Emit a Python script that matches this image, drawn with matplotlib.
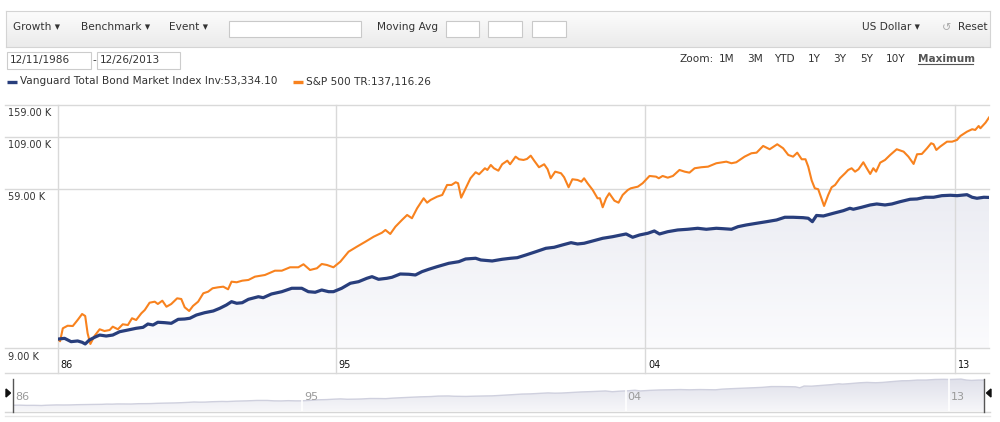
import numpy as np
import matplotlib
matplotlib.use("Agg")
import matplotlib.pyplot as plt
from matplotlib.patches import Rectangle, Polygon
from matplotlib.lines import Line2D
from matplotlib.colors import LinearSegmentedColormap
from matplotlib.transforms import offset_copy

# ---------------- data ----------------
sp_years = [1986.94, 1987.00, 1987.08, 1987.22, 1987.37, 1987.51, 1987.64, 1987.73, 1987.80, 1987.88,
            1988.00, 1988.15, 1988.29, 1988.44, 1988.53, 1988.68, 1988.82, 1988.97, 1989.09, 1989.21,
            1989.36, 1989.46, 1989.60, 1989.75, 1989.84, 1989.97, 1990.09, 1990.23, 1990.40, 1990.52,
            1990.62, 1990.75, 1990.86, 1991.01, 1991.16, 1991.30, 1991.43, 1991.59, 1991.74, 1991.88,
            1991.98, 1992.13, 1992.29, 1992.47, 1992.66, 1992.95, 1993.24, 1993.44, 1993.68, 1993.92,
            1994.07, 1994.26, 1994.46, 1994.60, 1994.75, 1994.94, 1995.14, 1995.38, 1995.62, 1995.87,
            1996.11, 1996.35, 1996.45, 1996.59, 1996.74, 1996.93, 1997.08, 1997.22, 1997.37, 1997.56,
            1997.66, 1997.76, 1997.95, 1998.10, 1998.24, 1998.37, 1998.49, 1998.56, 1998.65, 1998.78,
            1998.92, 1999.07, 1999.17, 1999.34, 1999.41, 1999.51, 1999.60, 1999.73, 1999.84, 1999.99,
            2000.07, 2000.23, 2000.33, 2000.46, 2000.56, 2000.67, 2000.77, 2000.91, 2001.06, 2001.16,
            2001.25, 2001.38, 2001.55, 2001.64, 2001.77, 2001.88, 2002.03, 2002.14, 2002.22, 2002.32,
            2002.47, 2002.61, 2002.68, 2002.76, 2002.86, 2002.95, 2003.10, 2003.22, 2003.34, 2003.49,
            2003.58, 2003.78, 2003.92, 2004.12, 2004.31, 2004.39, 2004.50, 2004.65, 2004.80, 2004.99,
            2005.14, 2005.28, 2005.43, 2005.62, 2005.82, 2006.06, 2006.35, 2006.50, 2006.64, 2006.88,
            2007.08, 2007.23, 2007.42, 2007.61, 2007.83, 2008.00, 2008.15, 2008.29, 2008.41, 2008.54,
            2008.65, 2008.73, 2008.83, 2008.92, 2009.02, 2009.19, 2009.31, 2009.41, 2009.51, 2009.65,
            2009.80, 2009.89, 2009.99, 2010.09, 2010.19, 2010.33, 2010.43, 2010.53, 2010.62, 2010.70,
            2010.82, 2010.96, 2011.11, 2011.30, 2011.50, 2011.64, 2011.79, 2011.89, 2012.03, 2012.18,
            2012.30, 2012.37, 2012.45, 2012.56, 2012.76, 2012.91, 2013.05, 2013.15, 2013.34, 2013.49,
            2013.58, 2013.68, 2013.73, 2013.88, 2013.98]
sp_values = [10000, 9750, 11360, 11710, 11670, 12530, 13450, 13140, 10710, 9440,
             10370, 11230, 11000, 11130, 11580, 11230, 11910, 11810, 12790, 12530,
             13560, 14100, 15370, 15560, 15140, 15740, 14660, 15140, 16190, 16060,
             14560, 13940, 14790, 15560, 17180, 17510, 18230, 18440, 18580, 18010,
             19710, 19570, 19940, 20110, 20910, 21330, 22440, 22440, 23360, 23360,
             24210, 22630, 23090, 24290, 24010, 23360, 24960, 28090, 29800, 31620,
             33540, 35160, 36310, 34630, 37750, 40860, 43350, 41700, 46920, 52810,
             50130, 51760, 53820, 54910, 61800, 61800, 63810, 63060, 53190, 59440,
             66890, 71820, 70140, 75290, 73790, 78280, 75290, 73180, 78940, 82360,
             78940, 86350, 83740, 83050, 84030, 87370, 82360, 76190, 78940, 74410,
             66890, 72330, 70970, 67690, 60140, 66110, 65560, 64260, 66890, 63060,
             58250, 52810, 52810, 47480, 52810, 56020, 51330, 50130, 54910, 58250,
             59440, 60570, 63060, 68740, 68170, 66890, 68740, 67370, 68740, 73790,
             72330, 71480, 75290, 76190, 76730, 79880, 81400, 79880, 80820, 86350,
             89900, 90540, 97990, 94250, 99980, 95370, 88110, 86350, 90540, 83740,
             83740, 76730, 65170, 59440, 58740, 48220, 54910, 60140, 61800, 66890,
             70970, 73790, 75290, 72330, 74410, 80820, 75290, 70390, 75290, 72330,
             80450, 83050, 88110, 94250, 91610, 86350, 79220, 88840, 89160, 95370,
             101200, 99980, 93470, 97190, 103100, 103100, 105200, 110300, 116000, 119400,
             118400, 124100, 120800, 129100, 137116.26]

bond_years = [1986.94, 1987.13, 1987.32, 1987.51, 1987.64, 1987.73, 1987.85, 1988.00, 1988.15, 1988.34,
              1988.53, 1988.73, 1988.97, 1989.21, 1989.41, 1989.55, 1989.70, 1989.84, 1990.04, 1990.23,
              1990.43, 1990.62, 1990.77, 1990.96, 1991.20, 1991.45, 1991.64, 1991.83, 1991.98, 1992.13,
              1992.29, 1992.47, 1992.76, 1992.90, 1993.14, 1993.44, 1993.73, 1994.02, 1994.21, 1994.41,
              1994.60, 1994.80, 1994.94, 1995.18, 1995.43, 1995.67, 1995.91, 1996.06, 1996.25, 1996.49,
              1996.64, 1996.88, 1997.13, 1997.32, 1997.51, 1997.71, 1997.95, 1998.29, 1998.58, 1998.78,
              1999.07, 1999.22, 1999.55, 1999.84, 2000.09, 2000.28, 2000.53, 2000.82, 2001.11, 2001.35,
              2001.59, 2001.84, 2002.03, 2002.22, 2002.47, 2002.76, 2003.05, 2003.29, 2003.44, 2003.63,
              2003.83, 2004.07, 2004.26, 2004.41, 2004.65, 2004.94, 2005.23, 2005.52, 2005.77, 2006.06,
              2006.25, 2006.50, 2006.69, 2006.93, 2007.23, 2007.52, 2007.81, 2008.05, 2008.29, 2008.58,
              2008.73, 2008.85, 2008.97, 2009.17, 2009.46, 2009.75, 2009.94, 2010.04, 2010.28, 2010.53,
              2010.72, 2010.96, 2011.16, 2011.40, 2011.69, 2011.89, 2012.13, 2012.37, 2012.61, 2012.86,
              2013.05, 2013.34, 2013.49, 2013.63, 2013.83, 2013.98]
bond_values = [10000, 10090, 9700, 9780, 9630, 9440, 9890, 10210, 10490, 10370,
               10490, 10910, 11130, 11360, 11490, 11950, 11810, 12200, 12140, 12050,
               12630, 12680, 12790, 13290, 13660, 13940, 14390, 14960, 15560, 15270,
               15370, 16000, 16500, 16310, 17040, 17510, 18230, 18230, 17510, 17390,
               17860, 17510, 17510, 18230, 19340, 19710, 20510, 20910, 20270, 20510,
               20760, 21580, 21510, 21330, 22180, 22820, 23530, 24490, 24960, 25770,
               25990, 25470, 25170, 25680, 25990, 26170, 27020, 28090, 29240, 29590,
               30410, 31250, 30770, 31030, 31880, 32910, 33540, 34220, 34630, 33310,
               34220, 34920, 35880, 34630, 35580, 36310, 36610, 37040, 36610, 37040,
               36870, 36610, 37750, 38520, 39300, 40050, 40860, 42190, 42190, 41990,
               41700, 40050, 43100, 42840, 44230, 45610, 46920, 46380, 47480, 48790,
               49370, 48790, 49370, 50730, 52190, 52380, 53440, 53440, 54460, 54720,
               54460, 55100, 53440, 52810, 53440, 53334.10]

bond_name = "Vanguard Total Bond Market Index Inv"
sp_name = "S&P 500 TR"
y_ticks = [9000, 59000, 109000, 159000]
y_tick_labels = ["9.00 K", "59.00 K", "109.00 K", "159.00 K"]
x_ticks = [1986.94, 1995.0, 2004.0, 2013.0]
x_tick_labels = ["86", "95", "04", "13"]
start_label, end_label = "12/11/1986", "12/26/2013"

# ---------------- style ----------------
NAVY = "#283e7c"
ORANGE = "#f8821e"
GRID = "#d9d9d9"
TXT = "#333333"
FONT = "DejaVu Sans"
plt.rcParams["font.family"] = [FONT]

W, H = 1000, 422
fig = plt.figure(figsize=(W / 100, H / 100), dpi=100)
fig.patch.set_facecolor("white")


def fx(x):
    return x / W


def fy(y):
    return 1 - y / H


def hline(x0, x1, y, color=GRID, lw=1.0, z=1):
    fig.add_artist(Line2D([fx(x0), fx(x1)], [fy(y), fy(y)], transform=fig.transFigure,
                          color=color, lw=lw, zorder=z))


def box(x0, y0, x1, y1, fc="white", ec="#c9c9c9", lw=0.8, z=3):
    fig.add_artist(Rectangle((fx(x0), fy(y1)), fx(x1 - x0), (y1 - y0) / H,
                             transform=fig.transFigure, facecolor=fc, edgecolor=ec,
                             lw=lw, zorder=z))


def ftext(x, y, s, size=7.6, color=TXT, ha="left", weight="normal", z=5):
    return fig.text(fx(x), fy(y), s, fontsize=size, color=color, ha=ha, va="center",
                    fontweight=weight, zorder=z)


# ---------------- toolbar ----------------
tb = fig.add_axes([fx(6), fy(47), fx(984), 36 / H])
tb.imshow(np.linspace(0, 1, 64).reshape(-1, 1), aspect="auto", extent=[0, 1, 0, 1],
          cmap=LinearSegmentedColormap.from_list("tb", ["#fcfcfc", "#ebebeb"]),
          origin="upper")
tb.set_xticks([]); tb.set_yticks([])
for sp in tb.spines.values():
    sp.set_color("#d4d4d4")

ftext(13, 27.5, "Growth \u25be")
ftext(81, 27.5, "Benchmark \u25be")
ftext(169, 27.5, "Event \u25be")
box(229, 20.5, 361, 36.5)
ftext(377, 27.5, "Moving Avg")
box(446, 20.5, 479, 36.5)
box(488, 20.5, 522, 36.5)
box(532, 20.5, 566, 36.5)
ftext(862, 27.5, "US Dollar \u25be")
ftext(942, 27.5, "\u21ba", color="#aaaaaa", size=8)
ftext(958, 27.5, "Reset")

# ---------------- date range + zoom ----------------
box(7, 52.5, 91, 68.5, ec="#cccccc")
ftext(10, 60.5, start_label)
ftext(92.5, 60.5, "-")
box(96.5, 52.5, 180, 68.5, ec="#cccccc")
ftext(99.5, 60.5, end_label)

zoom_items = [("Zoom:", 680), ("1M", 719), ("3M", 747), ("YTD", 774), ("1Y", 808),
              ("3Y", 833), ("5Y", 860), ("10Y", 886)]
for s, x in zoom_items:
    ftext(x, 58.5, s)
ftext(918, 58.5, "Maximum", weight="bold", color="#555555")
hline(918, 973, 63.8, color="#555555", lw=0.8)

# ---------------- legend ----------------
fig.add_artist(Line2D([fx(7), fx(17)], [fy(82), fy(82)], transform=fig.transFigure,
                      color=NAVY, lw=2.4, solid_capstyle="butt"))
ftext(20.5, 81.5, f"{bond_name}:{bond_values[-1]:,.2f}")
fig.add_artist(Line2D([fx(293), fx(303)], [fy(82), fy(82)], transform=fig.transFigure,
                      color=ORANGE, lw=2.4, solid_capstyle="butt"))
ftext(306.5, 81.5, f"{sp_name}:{sp_values[-1]:,.2f}")

# ---------------- main chart ----------------
AX_L, AX_R, AX_T, AX_B = 58, 989, 105, 348
ax = fig.add_axes([fx(AX_L), fy(AX_B), fx(AX_R - AX_L), (AX_B - AX_T) / H])
ax.set_facecolor("none")
ax.set_yscale("log")
for sp in ax.spines.values():
    sp.set_visible(False)
ax.set_xticks([]); ax.set_yticks([]); ax.minorticks_off()
ax.tick_params(which="both", left=False, bottom=False, labelleft=False, labelbottom=False)

# gradient fill below the bond line
grad = np.linspace(0, 1, 256).reshape(-1, 1)
im = ax.imshow(grad, extent=[0, 1, 0, 1], transform=ax.transAxes, aspect="auto",
               cmap=LinearSegmentedColormap.from_list("g", ["#fbfbfd", "#e2e4ed"]),
               origin="lower", zorder=1)
poly_xy = np.column_stack([bond_years + [bond_years[-1], bond_years[0]],
                           bond_values + [y_ticks[0], y_ticks[0]]])
poly = Polygon(poly_xy, closed=True, transform=ax.transData, facecolor="none",
               edgecolor="none")
ax.add_patch(poly)
im.set_clip_path(poly)

ax.plot(sp_years, sp_values, color=ORANGE, lw=1.5, zorder=4, solid_joinstyle="round")
ax.plot(bond_years, bond_values, color=NAVY, lw=2.3, zorder=5, solid_joinstyle="round")

ax.set_xlim(x_ticks[0], bond_years[-1])
ax.set_ylim(y_ticks[0], y_ticks[-1])

span = AX_R - AX_L
height = AX_B - AX_T
for v in y_ticks:
    ax.axhline(v, xmin=(5 - AX_L) / span, xmax=1, color=GRID, lw=1.0, clip_on=False, zorder=2)
for t in x_ticks:
    ax.axvline(t, ymin=(AX_B - 373) / height, ymax=1, color=GRID, lw=1.0, clip_on=False,
               zorder=2)
hline(5, AX_R, 373)

ytr = offset_copy(ax.get_yaxis_transform(), fig=fig, x=0, y=-8.5, units="dots")
for v, lab in zip(y_ticks, y_tick_labels):
    ax.text((8 - AX_L) / span, v, lab, transform=ytr, fontsize=7, color=TXT,
            ha="left", va="center")
xtr = offset_copy(ax.get_xaxis_transform(), fig=fig, x=2.5, y=-17, units="dots")
for t, lab in zip(x_ticks, x_tick_labels):
    ax.text(t, 0, lab, transform=xtr, fontsize=7, color="#111111", ha="left", va="center")

# ---------------- navigator ----------------
NV_L, NV_R, NV_T, NV_B = 13, 984, 378, 411
nav = fig.add_axes([fx(NV_L), fy(NV_B), fx(NV_R - NV_L), (NV_B - NV_T) / H])
nav.set_facecolor("white")
for sp in nav.spines.values():
    sp.set_visible(False)
nav.set_xticks([]); nav.set_yticks([])
nav.set_xlim(x_ticks[0], bond_years[-1])
nav.set_ylim(0, 57000)
nim = nav.imshow(np.linspace(0, 1, 64).reshape(-1, 1), extent=[0, 1, 0, 1],
                 transform=nav.transAxes, aspect="auto", origin="lower", zorder=1,
                 cmap=LinearSegmentedColormap.from_list("n", ["#f6f6f9", "#dfe0ea"]))
npoly = Polygon(np.column_stack([bond_years + [bond_years[-1], bond_years[0]],
                                 bond_values + [0, 0]]),
                closed=True, transform=nav.transData, facecolor="none", edgecolor="none")
nav.add_patch(npoly)
nim.set_clip_path(npoly)
nav.plot(bond_years, bond_values, color="#cfd0de", lw=1.0, zorder=2)
nav.set_xlim(x_ticks[0], bond_years[-1])
nav.set_ylim(0, 57000)
for t in x_ticks[1:]:
    nav.axvline(t, color="white", lw=1.2, zorder=3)
ntr = offset_copy(nav.get_xaxis_transform(), fig=fig, x=2, y=0, units="dots")
for t, lab in zip(x_ticks, x_tick_labels):
    nav.text(t, 0.42, lab, transform=ntr, fontsize=8, color="#9a9a9a", ha="left",
             va="center", zorder=4)
hline(5, 990, 411.5, color="#d6d6d6")
hline(5, 990, 415.5, color="#e6e6e6")

# handles
fig.add_artist(Line2D([fx(13), fx(13)], [fy(379), fy(412)], transform=fig.transFigure,
                      color="#555555", lw=1.0, zorder=6))
fig.add_artist(Line2D([fx(984), fx(984)], [fy(379), fy(412)], transform=fig.transFigure,
                      color="#555555", lw=1.0, zorder=6))
fig.add_artist(Polygon([[fx(6), fy(389)], [fx(6), fy(397)], [fx(10.5), fy(393)]],
                       closed=True, transform=fig.transFigure, color="#111111", zorder=6))
fig.add_artist(Polygon([[fx(991), fy(389)], [fx(991), fy(397)], [fx(986.5), fy(393)]],
                       closed=True, transform=fig.transFigure, color="#111111", zorder=6))

fig.savefig("out.png", dpi=100, facecolor="white")
